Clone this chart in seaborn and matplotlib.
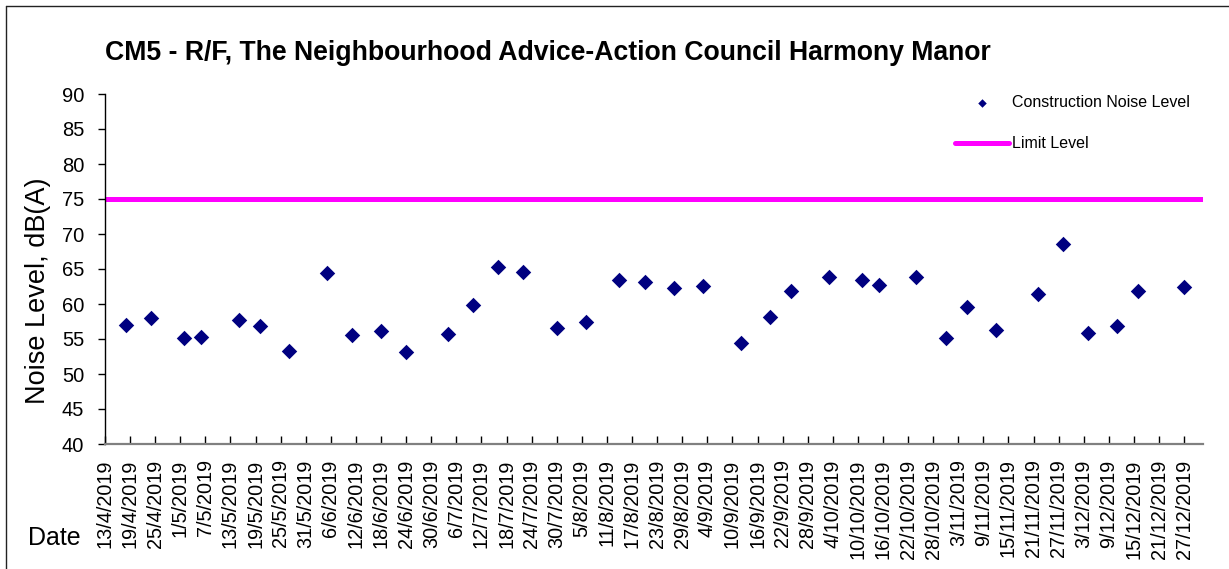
import matplotlib
matplotlib.use("Agg")
import matplotlib.pyplot as plt
from matplotlib.lines import Line2D
import seaborn as sns
import pandas as pd

# Measurement dates (d/m/Y) and construction noise levels, dB(A)
dates = ["18/4/2019", "24/4/2019", "2/5/2019", "6/5/2019", "15/5/2019", "20/5/2019",
         "27/5/2019", "5/6/2019", "11/6/2019", "18/6/2019", "24/6/2019", "4/7/2019",
         "10/7/2019", "16/7/2019", "22/7/2019", "30/7/2019", "6/8/2019", "14/8/2019",
         "20/8/2019", "27/8/2019", "3/9/2019", "12/9/2019", "19/9/2019", "24/9/2019",
         "3/10/2019", "11/10/2019", "15/10/2019", "24/10/2019", "31/10/2019", "5/11/2019",
         "12/11/2019", "22/11/2019", "28/11/2019", "4/12/2019", "11/12/2019", "16/12/2019",
         "27/12/2019"]
noise_levels = [57.0, 58.0, 55.2, 55.3, 57.7, 56.8,
                53.3, 64.5, 55.6, 56.1, 53.1, 55.7,
                59.8, 65.3, 64.6, 56.6, 57.4, 63.4,
                63.2, 62.3, 62.6, 54.4, 58.2, 61.8,
                63.9, 63.4, 62.7, 63.9, 55.2, 59.6,
                56.3, 61.4, 68.6, 55.8, 56.9, 61.8,
                62.5]
limit_level = 75

title = "CM5 - R/F, The Neighbourhood Advice-Action Council Harmony Manor"
series_label = "Construction Noise Level"
limit_label = "Limit Level"
y_label = "Noise Level, dB(A)"
x_label = "Date"

axis_start = "13/4/2019"
axis_end = "31/12/2019"
last_tick = "27/12/2019"
tick_step_days = 6
y_ticks = [40, 45, 50, 55, 60, 65, 70, 75, 80, 85, 90]

df = pd.DataFrame({
    "date": pd.to_datetime(dates, format="%d/%m/%Y"),
    "level": noise_levels,
})
start = pd.to_datetime(axis_start, format="%d/%m/%Y")
end = pd.to_datetime(axis_end, format="%d/%m/%Y") + pd.Timedelta(hours=12)
tick_dates = pd.date_range(start, pd.to_datetime(last_tick, format="%d/%m/%Y"),
                           freq=f"{tick_step_days}D")
tick_labels = [f"{d.day}/{d.month}/{d.year}" for d in tick_dates]

sns.set_theme(style="white")
plt.rcParams["font.family"] = ["Liberation Sans", "DejaVu Sans"]
plt.rcParams.update({"text.color": "black", "axes.labelcolor": "black",
                     "xtick.color": "black", "ytick.color": "black"})

W, H = 1229, 569
fig = plt.figure(figsize=(W / 100, H / 100), dpi=100)
ax = fig.add_axes([105 / W, 1 - 444 / H, (1203 - 105) / W, (444 - 94) / H])

sns.scatterplot(data=df, x="date", y="level", ax=ax, marker="D", s=62,
                color="#000080", linewidth=0, label=series_label, zorder=3)
ax.axhline(limit_level, color="#FF00FF", linewidth=3.6, label=limit_label, zorder=2)

ax.set_xlim(start, end)
ax.set_ylim(40, 90)
ax.set_yticks(y_ticks)
ax.set_xticks(tick_dates)
ax.set_xticklabels(tick_labels, rotation=90, fontsize=14.3)
ax.tick_params(axis="y", direction="out", length=5, width=1, color="black",
               labelsize=14.5, pad=10, left=True)
ax.tick_params(axis="x", direction="in", length=6, width=1, color="black",
               pad=11, bottom=True)
ax.set_xlabel("")
ax.set_ylabel("")

for side in ("top", "right"):
    ax.spines[side].set_visible(False)
ax.spines["left"].set_color("black")
ax.spines["left"].set_linewidth(1)
ax.spines["bottom"].set_color("#808080")
ax.spines["bottom"].set_linewidth(1.6)

handles, labels = ax.get_legend_handles_labels()
ax.legend(handles, labels, loc="upper left", bbox_to_anchor=(955 / W, 1 - 95 / H),
          bbox_transform=fig.transFigure, frameon=False, fontsize=11.5,
          handlelength=3.4, handletextpad=0.15, labelspacing=1.65,
          borderpad=0, borderaxespad=0, markerscale=0.55)

fig.text(105 / W, 1 - 59.5 / H, title, fontsize=19.2, fontweight="bold",
         ha="left", va="baseline")
fig.text(38 / W, 1 - 291 / H, y_label, fontsize=19.5, rotation=90,
         ha="center", va="center")
fig.text(28 / W, 1 - 545 / H, x_label, fontsize=18, ha="left", va="baseline")

# Chart border (left and top edges)
fig.add_artist(Line2D([6 / W, 6 / W], [0, 1 - 6 / H], transform=fig.transFigure,
                      color="#222222", linewidth=1))
fig.add_artist(Line2D([6 / W, 1], [1 - 6 / H, 1 - 6 / H], transform=fig.transFigure,
                      color="#222222", linewidth=1))

fig.savefig("out.png", dpi=100)
